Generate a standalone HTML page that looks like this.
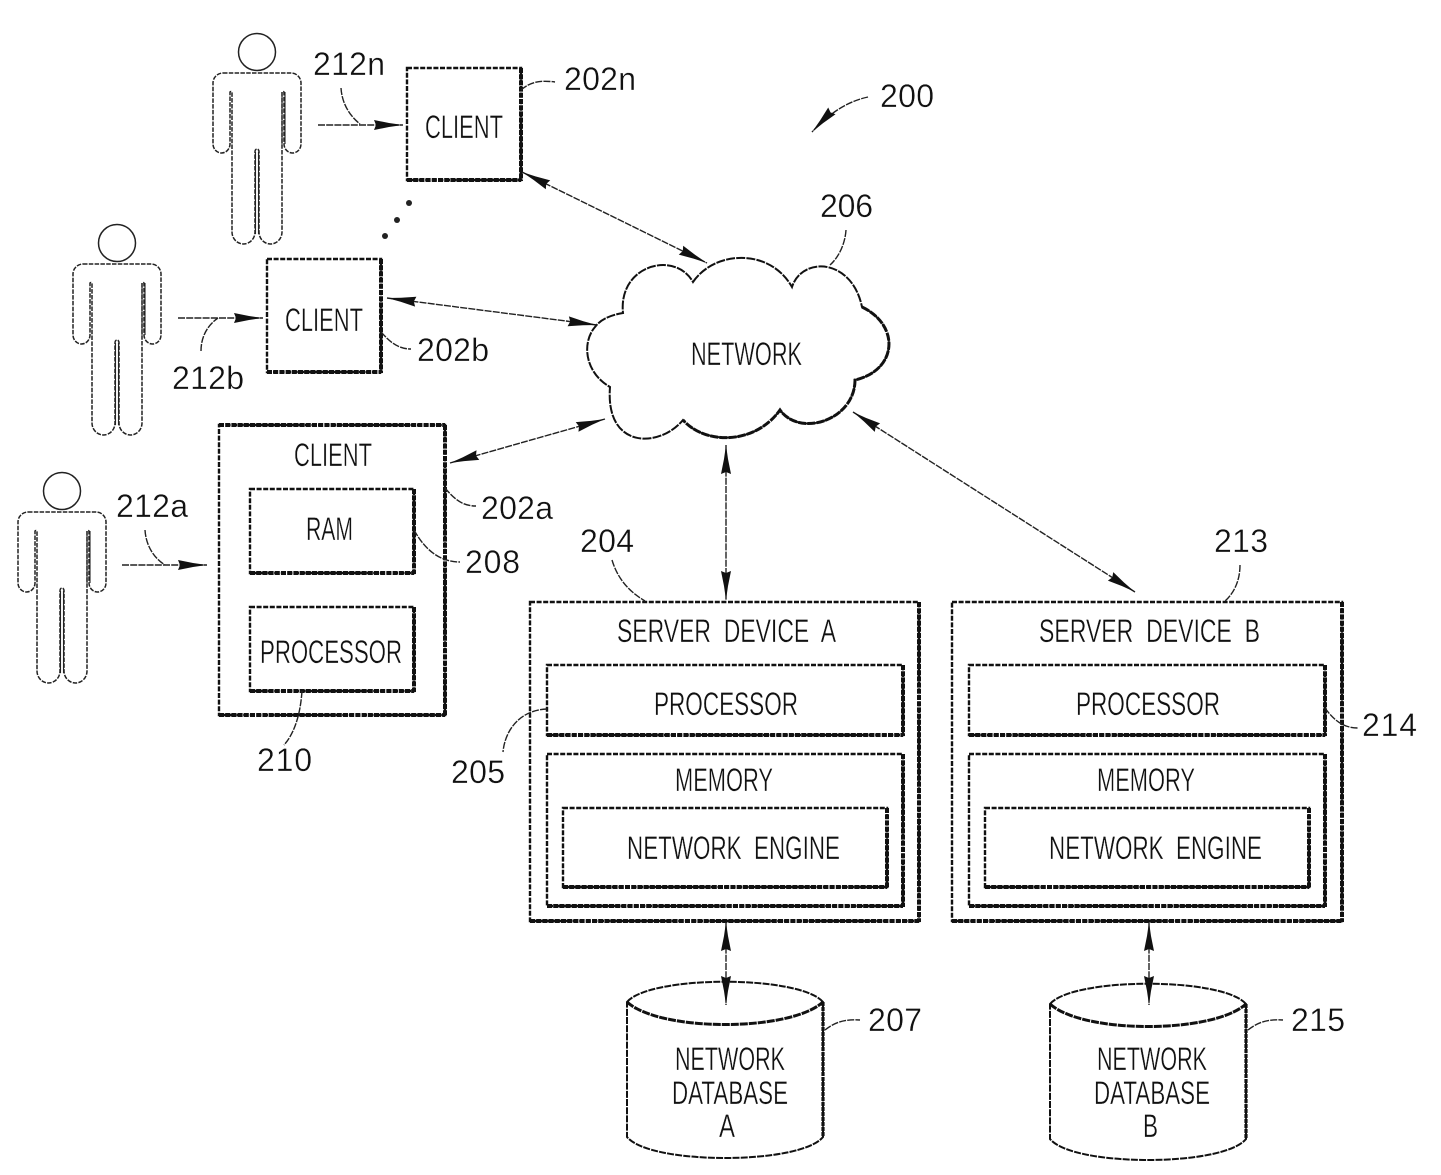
<!DOCTYPE html>
<html lang="en"><head><meta charset="utf-8"><title>Network diagram 200</title>
<style>
html,body{margin:0;padding:0;background:#fff}
svg{display:block}
text{font-family:"Liberation Sans",sans-serif;font-size:32px;fill:#111;stroke:#fff;stroke-width:.35px;white-space:pre}
.b{fill:#fff;stroke:#111;stroke-width:2.4;stroke-dasharray:5 1.6}
.h{fill:none;stroke:#111;stroke-width:4;stroke-dasharray:5 1.2}
.p{fill:none;stroke:#222;stroke-width:1.5;stroke-dasharray:4.5 1.3}
.l{fill:none;stroke:#222;stroke-width:1.4;stroke-dasharray:7 1.2}
.c{fill:none;stroke:#111;stroke-width:2;stroke-dasharray:7 1.2}
</style></head><body>
<svg xmlns="http://www.w3.org/2000/svg" width="1441" height="1175" viewBox="0 0 1441 1175">
<defs>
<marker id="a" viewBox="-32 -6 34 12" refX="0" refY="0" markerWidth="34" markerHeight="12" markerUnits="userSpaceOnUse" orient="auto-start-reverse">
<path d="M0 0L-14 -2L-29 -5L-27 0L-29 5L-14 2Z" fill="#111"/>
</marker>
<g id="person">
<circle cx="0" cy="0" r="18.5" fill="none" stroke="#222" stroke-width="1.5"/>
<path class="p" d="M-34 21H34A10 10 0 0 1 44 31V92A8.5 9 0 0 1 27 92V40A1.5 2 0 0 0 25 40V180A11.500 12 0 0 1 2 180V100A2 3 0 0 0 -2 100V180A11.500 12 0 0 1 -25 180V40A1.500 2 0 0 0 -27 40V92A8.500 9 0 0 1 -44 92V31A10 10 0 0 1 -34 21Z"/>
<path d="M-1.500 100V182M1.500 100V182M25 40V92M28 40V92" fill="none" stroke="#222" stroke-width="1.100"/>
</g>
<g id="cyl">
<path class="c" d="M627 1002C650 975 800 975 823 1002V1137C800 1165 650 1165 627 1137Z"/>
<path d="M627 1002C660 1032 790 1032 823 1002" fill="none" stroke="#111" stroke-width="3" stroke-dasharray="8 1"/>
<path d="M823 1002V1137" fill="none" stroke="#111" stroke-width="3.200" stroke-dasharray="4 1"/>
</g>
</defs>
<rect width="1441" height="1175" fill="#fff"/>

<use href="#person" x="257" y="52"/>
<use href="#person" x="117" y="243"/>
<use href="#person" x="62" y="491"/>

<!-- cloud -->
<path d="M693 282C715 250 770 248 792 287C802 256 852 258 862 307C900 325 898 370 855 380C855 420 800 438 780 410C755 445 705 445 683 420C660 448 605 450 610 387C584 372 582 342 595 327C600 320 610 315 623 313C618 265 675 250 693 282Z" fill="#fff" stroke="#111" stroke-width="2" stroke-dasharray="9 1.200"/>
<path d="M862 307C900 325 898 370 855 380C855 420 800 438 780 410C755 445 705 445 683 420" fill="none" stroke="#111" stroke-width="3" stroke-dasharray="8 1.200"/>

<!-- clients -->
<rect class="b" x="407" y="68" width="114" height="112"/>
<path class="h" d="M521 68V181M407 180H521"/>
<rect class="b" x="267" y="259" width="114" height="113"/>
<path class="h" d="M381 259V373M267 372H381"/>
<rect class="b" x="219" y="425" width="226" height="290"/>
<path class="h" d="M445 425V716M219 715H445M219 425H445"/>
<rect class="b" x="250" y="489" width="164" height="84"/>
<path class="h" d="M414 489V574M250 573H414"/>
<rect class="b" x="250" y="607" width="164" height="84" stroke-dasharray="4 2"/>
<path class="h" d="M414 607V692M250 691H414"/>

<!-- server A -->
<rect class="b" x="530" y="602" width="389" height="319"/>
<path class="h" d="M919 602V922M530 921H919" stroke-dasharray="3 1.500"/>
<rect class="b" x="547" y="665" width="356" height="70"/>
<path class="h" d="M903 665V736M547 735H903" stroke-dasharray="3 1.500"/>
<rect class="b" x="547" y="754" width="356" height="152"/>
<path class="h" d="M903 754V907M547 906H903" stroke-dasharray="3 1.500"/>
<rect class="b" x="563" y="808" width="324" height="79"/>
<path class="h" d="M887 808V888M563 887H887" stroke-dasharray="3 1.500"/>

<!-- server B -->
<rect class="b" x="952" y="602" width="390" height="319"/>
<path class="h" d="M1342 602V922M952 921H1342" stroke-dasharray="3 1.500"/>
<rect class="b" x="969" y="665" width="356" height="70"/>
<path class="h" d="M1325 665V736M969 735H1325" stroke-dasharray="3 1.500"/>
<rect class="b" x="969" y="754" width="356" height="152"/>
<path class="h" d="M1325 754V907M969 906H1325" stroke-dasharray="3 1.500"/>
<rect class="b" x="985" y="808" width="324" height="79"/>
<path class="h" d="M1309 808V888M985 887H1309" stroke-dasharray="3 1.500"/>

<!-- databases -->
<use href="#cyl"/>
<use href="#cyl" x="423" y="2"/>

<!-- connectors -->
<path class="l" marker-end="url(#a)" d="M318 125H403"/>
<path class="l" marker-end="url(#a)" d="M178 318H263"/>
<path class="l" marker-end="url(#a)" d="M122 565H207"/>
<path class="l" marker-start="url(#a)" marker-end="url(#a)" d="M522 172L707 263"/>
<path class="l" marker-start="url(#a)" marker-end="url(#a)" d="M387 298L597 325"/>
<path class="l" marker-start="url(#a)" marker-end="url(#a)" d="M450 463L605 419"/>
<path class="l" marker-start="url(#a)" marker-end="url(#a)" d="M726 445V600"/>
<path class="l" marker-start="url(#a)" marker-end="url(#a)" d="M853 412L1135 592"/>
<path class="l" marker-start="url(#a)" marker-end="url(#a)" d="M726 922V1005"/>
<path class="l" marker-start="url(#a)" marker-end="url(#a)" d="M1149 922V1005"/>

<!-- leaders -->
<path class="l" d="M341 88C342 104 350 116 360 124"/>
<path class="l" d="M521 90C530 82 540 80 555 82"/>
<path class="l" d="M201 351C201 336 208 325 218 318"/>
<path class="l" d="M381 332C390 342 398 349 411 349"/>
<path class="l" d="M145 530C146 546 154 558 165 565"/>
<path class="l" d="M445 488C455 500 463 506 476 506"/>
<path class="l" d="M414 530C425 550 440 562 460 562"/>
<path class="l" d="M302 691C300 720 292 736 284 745"/>
<path class="l" d="M547 709C520 710 505 730 503 752"/>
<path class="l" d="M612 560C618 580 630 592 645 601"/>
<path class="l" d="M1240 565C1240 582 1233 594 1225 601"/>
<path class="l" d="M1325 708C1335 722 1345 728 1358 728"/>
<path class="l" d="M825 1030C835 1022 845 1019 860 1020"/>
<path class="l" d="M1248 1030C1258 1022 1268 1019 1283 1020"/>
<path class="l" d="M846 230C845 245 838 258 830 265"/>
<path class="l" marker-end="url(#a)" d="M868 97C845 102 828 115 812 132"/>

<circle cx="409" cy="203" r="3" fill="#222"/><circle cx="397" cy="220" r="3" fill="#222"/><circle cx="385" cy="236" r="3" fill="#222"/>

<!-- box labels -->
<text x="425" y="138" textLength="78" lengthAdjust="spacingAndGlyphs">CLIENT</text>
<text x="285" y="331" textLength="78" lengthAdjust="spacingAndGlyphs">CLIENT</text>
<text x="294" y="466" textLength="78" lengthAdjust="spacingAndGlyphs">CLIENT</text>
<text x="306" y="540" textLength="47" lengthAdjust="spacingAndGlyphs">RAM</text>
<text x="260" y="663" textLength="142" lengthAdjust="spacingAndGlyphs">PROCESSOR</text>
<text x="691" y="365" textLength="111" lengthAdjust="spacingAndGlyphs">NETWORK</text>
<text x="617" y="642" textLength="219" lengthAdjust="spacingAndGlyphs">SERVER  DEVICE  A</text>
<text x="654" y="715" textLength="144" lengthAdjust="spacingAndGlyphs">PROCESSOR</text>
<text x="675" y="791" textLength="98" lengthAdjust="spacingAndGlyphs">MEMORY</text>
<text x="627" y="859" textLength="213" lengthAdjust="spacingAndGlyphs">NETWORK  ENGINE</text>
<text x="1039" y="642" textLength="221" lengthAdjust="spacingAndGlyphs">SERVER  DEVICE  B</text>
<text x="1076" y="715" textLength="144" lengthAdjust="spacingAndGlyphs">PROCESSOR</text>
<text x="1097" y="791" textLength="98" lengthAdjust="spacingAndGlyphs">MEMORY</text>
<text x="1049" y="859" textLength="213" lengthAdjust="spacingAndGlyphs">NETWORK  ENGINE</text>
<text x="675" y="1070" textLength="110" lengthAdjust="spacingAndGlyphs">NETWORK</text>
<text x="672" y="1104" textLength="116" lengthAdjust="spacingAndGlyphs">DATABASE</text>
<text x="719" y="1137" textLength="16" lengthAdjust="spacingAndGlyphs">A</text>
<text x="1097" y="1070" textLength="110" lengthAdjust="spacingAndGlyphs">NETWORK</text>
<text x="1094" y="1104" textLength="116" lengthAdjust="spacingAndGlyphs">DATABASE</text>
<text x="1143" y="1137" textLength="15" lengthAdjust="spacingAndGlyphs">B</text>

<!-- reference numerals -->
<text x="313" y="75" textLength="72">212n</text>
<text x="564" y="90" textLength="72">202n</text>
<text x="880" y="107" textLength="54">200</text>
<text x="820" y="217" textLength="53">206</text>
<text x="417" y="361" textLength="72">202b</text>
<text x="172" y="389" textLength="72">212b</text>
<text x="116" y="517" textLength="72">212a</text>
<text x="481" y="519" textLength="72">202a</text>
<text x="580" y="552" textLength="54">204</text>
<text x="1214" y="552" textLength="54">213</text>
<text x="465" y="573" textLength="55">208</text>
<text x="257" y="771" textLength="55">210</text>
<text x="451" y="783" textLength="54">205</text>
<text x="1362" y="736" textLength="55">214</text>
<text x="868" y="1031" textLength="54">207</text>
<text x="1291" y="1031" textLength="54">215</text>
</svg>
</body></html>
